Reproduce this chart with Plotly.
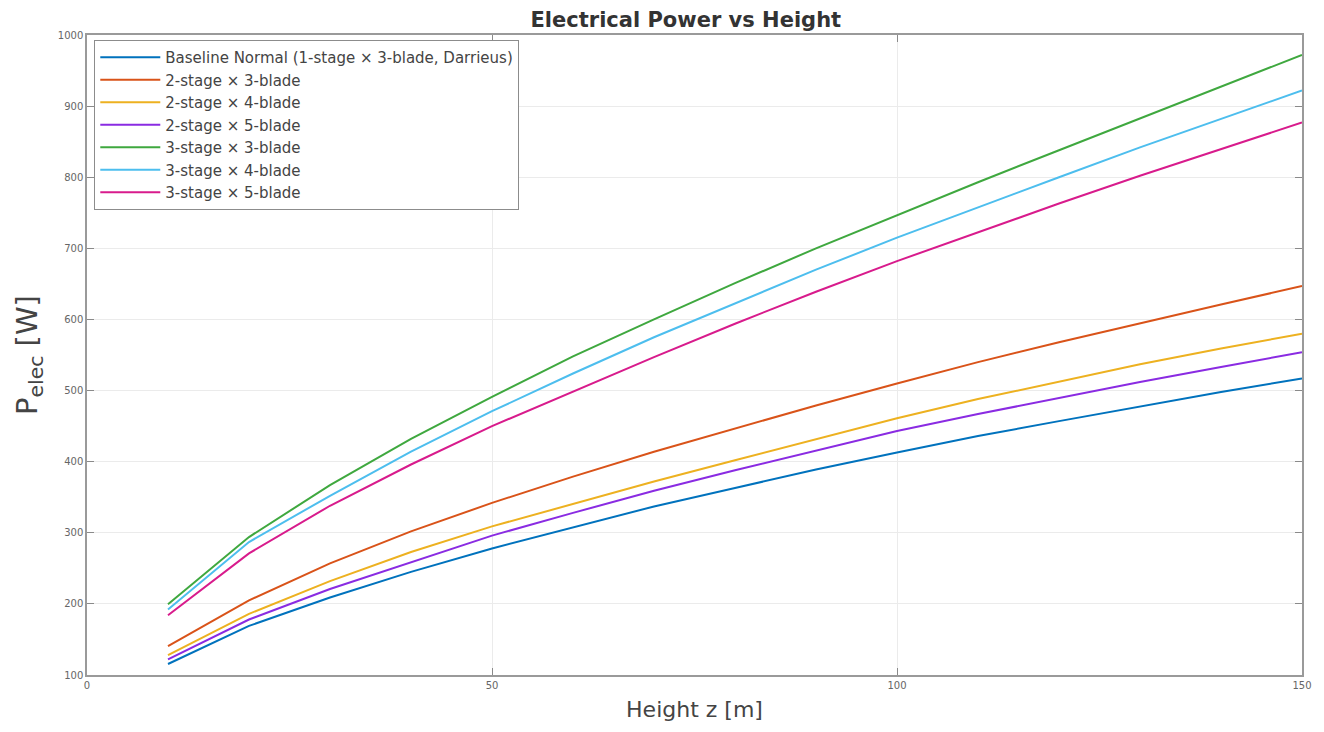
import plotly.graph_objects as go

# Hub height [m]
height_m = [10, 20, 30, 40, 50, 60, 70, 80, 90, 100, 110, 120, 130, 140, 150]

# Electrical power [W] for each rotor configuration
baseline_1s3b = [115.5, 169, 209, 245, 278, 308, 337, 363, 389, 413, 436, 457, 478, 498, 517]
stage2_blade3 = [140.7, 205, 257, 302, 342, 379, 414, 447, 479, 510, 540, 568, 595, 621, 647]
stage2_blade4 = [128, 186, 232, 273, 309, 341, 372, 402, 432, 461, 488, 513, 537, 559, 580]
stage2_blade5 = [122, 178, 221, 259, 296, 328, 359, 388, 416, 443, 467, 490, 512, 533, 554]
stage3_blade3 = [199.5, 294, 367, 432, 491, 548, 600, 651, 700, 747, 793, 838, 883, 927, 972]
stage3_blade4 = [192, 287, 352, 414, 471, 524, 575, 623, 670, 715, 758, 800, 842, 882, 922]
stage3_blade5 = [184, 271, 338, 396, 450, 499, 547, 594, 639, 682, 723, 763, 802, 840, 877]

series_names = [
    "Baseline Normal (1-stage × 3-blade, Darrieus)",
    "2-stage × 3-blade",
    "2-stage × 4-blade",
    "2-stage × 5-blade",
    "3-stage × 3-blade",
    "3-stage × 4-blade",
    "3-stage × 5-blade",
]
series_values = [baseline_1s3b, stage2_blade3, stage2_blade4, stage2_blade5,
                 stage3_blade3, stage3_blade4, stage3_blade5]
series_colors = ["#0072BD", "#D95319", "#EDB120", "#8A2BE2", "#3FA83F", "#4DBEEE", "#D81B8C"]

x_ticks = [0, 50, 100, 150]
y_ticks = [100, 200, 300, 400, 500, 600, 700, 800, 900, 1000]

FONT = "DejaVu Sans, Liberation Sans, Arial, sans-serif"

fig = go.Figure()
for name, vals, col in zip(series_names, series_values, series_colors):
    fig.add_trace(go.Scatter(x=height_m, y=vals, mode="lines", name=name,
                             line=dict(color=col, width=2)))

axis_common = dict(
    showline=True, linecolor="#9a9a9a", linewidth=1.5, mirror="ticks",
    ticks="inside", ticklen=7, tickcolor="#8a8a8a", tickwidth=1,
    showgrid=True, gridcolor="#ebebeb", gridwidth=1, zeroline=False,
    tickfont=dict(family=FONT, size=10, color="#666666"),
)

fig.update_xaxes(range=[0, 150], tickvals=x_ticks, ticktext=[str(v) for v in x_ticks],
                 title=dict(text="Height z [m]", standoff=12,
                            font=dict(family=FONT, size=22, color="#444444")),
                 **axis_common)
fig.update_yaxes(range=[100, 1000], tickvals=y_ticks, ticktext=[str(v) for v in y_ticks],
                 title=dict(text="P<sub>elec</sub> [W]", standoff=12,
                            font=dict(family=FONT, size=29, color="#444444")),
                 **axis_common)

fig.update_layout(
    width=1324, height=732,
    margin=dict(l=87, r=22, t=35, b=57),
    paper_bgcolor="white", plot_bgcolor="white",
    title=dict(text="<b>Electrical Power vs Height</b>", x=0.518, xanchor="center",
               y=0.973, yanchor="middle",
               font=dict(family=FONT, size=21, color="#333333")),
    legend=dict(x=0.006, y=0.992, xanchor="left", yanchor="top",
                bgcolor="white", bordercolor="#8c8c8c", borderwidth=1,
                font=dict(family=FONT, size=15, color="#444444"),
                itemwidth=60, tracegroupgap=0),
    showlegend=True,
)

fig.write_html("out.html")
